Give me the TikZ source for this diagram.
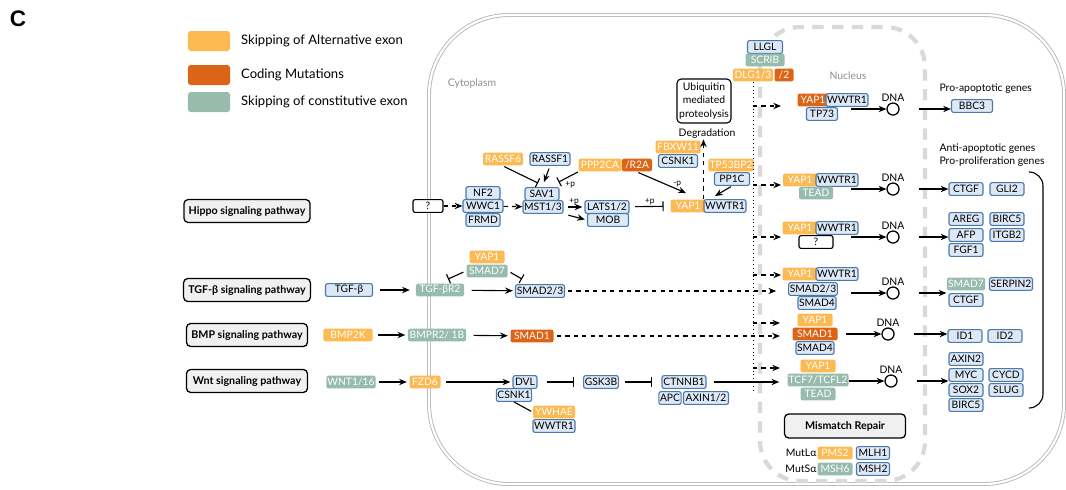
\documentclass[tikz,border=0pt]{standalone}
\usepackage{fontspec}
\setmainfont{Lato}
\newfontfamily\panelfont{Liberation Sans}
\usepackage{tikz}
\usetikzlibrary{arrows.meta,calc,positioning}

\definecolor{altorange}{HTML}{FDB952}
\definecolor{mutorange}{HTML}{DC6416}
\definecolor{constgreen}{HTML}{97BCAE}
\definecolor{boxblue}{HTML}{DCE8F5}
\definecolor{edgeblue}{HTML}{4B79AA}
\definecolor{pathgray}{HTML}{F0F0F0}
\definecolor{cellgray}{HTML}{B4B4B4}
\definecolor{nucgray}{HTML}{D9D9D9}
\definecolor{notegray}{HTML}{8C8C8C}

\newcommand{\boxfont}{\fontsize{7.3}{7.5}\selectfont}
\newcommand{\notefont}{\fontsize{7.4}{9.6}\selectfont}
\newcommand{\tinyfont}{\fontsize{6}{6}\selectfont}
\newcommand{\pathfont}{\fontsize{7.6}{8}\selectfont\bfseries}
\newcommand{\legendfont}{\fontsize{9.3}{10}\selectfont}

\begin{document}
\begin{tikzpicture}[x=0.025cm, y=-0.025cm, >={Stealth[length=5.5pt,width=4.5pt]}, line width=0.8pt]
  \tikzstyle{bbox}=[rectangle, draw=edgeblue, fill=boxblue, rounded corners=1.5pt,
                    line width=0.8pt, minimum width=0.85cm, minimum height=0.32cm,
                    inner xsep=0.8pt, inner ysep=1pt, font=\boxfont, text=black]
  \tikzstyle{obox}=[bbox, draw=none, fill=altorange, text=white]
  \tikzstyle{mbox}=[obox, fill=mutorange]
  \tikzstyle{gbox}=[obox, fill=constgreen]
  \tikzstyle{qbox}=[bbox, draw=black, fill=white]
  \tikzstyle{pbox}=[rectangle, draw=black, fill=pathgray, rounded corners=3pt,
                    line width=0.9pt, minimum width=3.025cm, minimum height=0.575cm,
                    font=\pathfont]
  \tikzstyle{dna}=[circle, draw=black, line width=0.9pt, minimum size=0.3cm, inner sep=0pt,
                   label distance=3pt, label={[font=\notefont, inner sep=0pt]above:DNA}]
  \tikzstyle{note}=[font=\notefont, inner sep=0pt, align=center]
  \tikzstyle{swatch}=[rectangle, rounded corners=2pt, minimum width=1.05cm,
                      minimum height=0.5cm, inner sep=0pt]
  \tikzstyle{legend}=[font=\legendfont, inner sep=0pt]
  \tikzstyle{arr}=[->, shorten <=3.5pt, shorten >=1.5pt]
  \tikzstyle{darr}=[->, dashed]
  \tikzstyle{inh}=[-{Bar[width=7pt]}, shorten <=4pt, shorten >=4.5pt]
  \tikzstyle{plabel}=[font=\tinyfont, inner sep=1pt]

  \useasboundingbox (0,0) rectangle (1066,489);

  % panel letter and legend
  \node[font=\panelfont\bfseries\fontsize{16}{16}\selectfont] (panel) at (18,19) {C};
  \node[swatch, fill=altorange]  (lgalt)   at (209,41)  {};
  \node[swatch, fill=mutorange]  (lgmut)   at (209,75)  {};
  \node[swatch, fill=constgreen] (lgconst) at (209,102) {};
  \node[legend, right=0.25cm of lgalt]   {Skipping of Alternative exon};
  \node[legend, right=0.25cm of lgmut]   {Coding Mutations};
  \node[legend, right=0.25cm of lgconst] {Skipping of constitutive exon};

  % cell and nucleus
  \draw[cellgray, line width=0.6pt, double=white, double distance=1.6pt, rounded corners=2cm]
       (429,15) rectangle (1064,484);
  \draw[nucgray, line width=3pt, dash pattern=on 8pt off 6pt, rounded corners=1cm]
       (760,27) rectangle (925,481);
  \node[note, text=notegray] (cyto) at (472,84) {Cytoplasm};
  \node[note, text=notegray] (nucl) at (848,76) {Nucleus};

  % pathways
  \node[pbox] (hippo) at (247,211) {Hippo signaling pathway};
  \node[pbox] (tgf)   at (247,290) {TGF-β signaling pathway};
  \node[pbox] (bmp)   at (247,335) {BMP signaling pathway};
  \node[pbox] (wnt)   at (247,381) {Wnt signaling pathway};

  % Hippo
  \node[qbox, minimum width=0.75cm] (q1) at (428,206) {?};
  \node[bbox] (nf2)  at (483,193) {NF2};
  \node[bbox, minimum width=1cm] (wwc1) at (483,206) {WWC1};
  \node[bbox] (frmd) at (483,220) {FRMD};
  \node[bbox] (sav1) at (542,194) {SAV1};
  \node[bbox, minimum width=1cm] (mst) at (543,207) {MST1/3};
  \node[bbox, minimum width=1.1cm] (lats) at (607,207) {LATS1/2};
  \node[bbox, minimum width=1.025cm] (mob) at (608,220) {MOB};
  \node[obox, minimum width=0.875cm] (yap1h) at (688,206) {YAP1};
  \node[bbox, minimum width=0.975cm] (wwtr1h) at (725,206) {WWTR1};
  \node[obox, minimum width=1cm] (rassf6) at (503,159) {RASSF6};
  \node[bbox, minimum width=1cm] (rassf1) at (550,159) {RASSF1};
  \node[obox, minimum width=1.075cm] (ppp2ca) at (600,165) {PPP2CA};
  \node[mbox, minimum width=0.75cm] (r2a) at (637,165) {/R2A};
  \node[obox, minimum width=1.125cm] (fbxw11) at (678,147) {FBXW11};
  \node[bbox, minimum width=0.975cm] (csnk1h) at (678,161) {CSNK1};
  \node[obox, minimum width=1.075cm] (tp53bp2) at (731,165) {TP53BP2};
  \node[bbox, minimum width=0.875cm] (pp1c) at (732,179) {PP1C};
  \node[rectangle, draw=black, fill=white, rounded corners=3pt, line width=0.8pt,
        minimum width=1.35cm, minimum height=1.1cm, inner sep=1pt, font=\notefont,
        align=center] (ubq) at (704,101) {Ubiquitin\\mediated\\proteolysis};
  \node[note] (degr) at (707,134) {Degradation};

  \node[bbox, minimum width=0.875cm] (llgl) at (765,47) {LLGL};
  \node[gbox, minimum width=0.975cm] (scrib) at (765,60) {SCRIB};
  \node[obox, minimum width=1cm] (dlg) at (753,75) {DLG1/3};
  \node[mbox, minimum width=0.475cm] (dlg2) at (784,75) {/2};

  \draw[darr] (q1) -- (wwc1);
  \draw[darr] (wwc1) -- (mst);
  \draw[arr] (mst) -- node[plabel, above]{+p} (lats);
  \draw[arr] (mst.south east) -- (mob.west);
  \draw[inh] (lats) -- node[plabel, above]{+p} (yap1h);
  \draw[inh, shorten <=1pt, shorten >=0pt] (rassf6.south) -- ($(sav1.north)+(-4,-4)$);
  \draw[arr, shorten <=2pt, shorten >=0pt] (rassf1.south) -- ($(sav1.north)+(2,-5)$);
  \draw[inh, shorten <=0pt, shorten >=0pt] (ppp2ca.south west) --
        node[plabel, pos=0.75, below right=0pt]{+p} ($(sav1.north east)+(-1,-5)$);
  \draw[arr, shorten <=1pt, shorten >=0pt] (r2a.south) --
        node[plabel, pos=0.82, above]{-p} ($(yap1h.north)+(-2,-6)$);
  \draw[arr, shorten <=1pt, shorten >=0pt] (pp1c.south) -- ($(wwtr1h.north)+(-10,-3)$);
  \draw[darr] (wwtr1h.north west) -- (wwtr1h.north west |- degr.south);

  % TGF-beta
  \node[bbox, minimum width=1.175cm] (tgfb) at (349,290) {TGF-β};
  \node[gbox, minimum width=1.2cm] (tgfr) at (440,290) {TGF-βR2};
  \node[bbox, minimum width=1.225cm] (smad23) at (540,291) {SMAD2/3};
  \node[obox, minimum width=0.875cm] (yap1t) at (487,257) {YAP1};
  \node[gbox, minimum width=1.025cm] (smad7t) at (487,271) {SMAD7};
  \draw[arr, shorten <=5pt, shorten >=4pt] (tgfb) -- (tgfr);
  \draw[arr, shorten <=5pt] (tgfr) -- (smad23);
  \draw[inh, shorten <=2pt, shorten >=0pt] (smad7t.west) -- ($(tgfr.north)+(8,-4)$);
  \draw[inh, shorten <=2pt, shorten >=0pt] (smad7t.east) -- ($(smad23.north)+(-18,-5)$);

  % BMP
  \node[obox, minimum width=1.225cm] (bmp2k) at (348,335) {BMP2K};
  \node[gbox, minimum width=1.45cm] (bmpr) at (437,335) {BMPR2/ 1B};
  \node[mbox, minimum width=1.075cm] (smad1) at (532,336) {SMAD1};
  \draw[arr] (bmp2k) -- (bmpr);
  \draw[arr, shorten <=5pt] (bmpr) -- (smad1);

  % Wnt
  \node[gbox, minimum width=1.225cm] (wnt1) at (351,382) {WNT1/16};
  \node[obox, minimum width=0.775cm] (fzd6) at (425,382) {FZD6};
  \node[bbox, minimum width=0.6cm] (dvl) at (525,382) {DVL};
  \node[bbox, minimum width=0.85cm] (csnk1w) at (514,395) {CSNK1};
  \node[obox, minimum width=1.05cm] (ywhae) at (554,412) {YWHAE};
  \node[bbox, minimum width=1.05cm] (wwtr1w) at (554,426) {WWTR1};
  \node[bbox] (gsk) at (601,382) {GSK3B};
  \node[bbox, minimum width=1.1cm] (ctnnb1) at (684,382) {CTNNB1};
  \node[bbox, minimum width=0.55cm] (apc) at (670,398) {APC};
  \node[bbox, minimum width=1.125cm] (axin) at (706,398) {AXIN1/2};
  \draw[arr, shorten <=2pt] (wnt1) -- (fzd6);
  \draw[arr] (fzd6) -- (dvl);
  \draw[inh, shorten <=6.5pt, shorten >=6.5pt] (dvl) -- (gsk);
  \draw[inh, shorten >=6.5pt] (gsk) -- (ctnnb1);
  \draw[shorten <=1pt] (ywhae.west) -- (csnk1w.south);

  % nucleus complexes
  \node[mbox, minimum width=0.775cm] (yap1n1) at (813,100) {YAP1};
  \node[bbox, minimum width=0.925cm] (wwtr1n1) at (847,100) {WWTR1};
  \node[bbox, minimum width=0.775cm] (tp73) at (822,114) {TP73};

  \node[obox, minimum width=0.85cm] (yap1n2) at (800,180) {YAP1};
  \node[bbox, minimum width=1cm] (wwtr1n2) at (837,180) {WWTR1};
  \node[gbox, minimum width=0.85cm] (tead2) at (816,193) {TEAD};

  \node[obox, minimum width=0.875cm] (yap1n3) at (800,228) {YAP1};
  \node[bbox, minimum width=1cm] (wwtr1n3) at (837,228) {WWTR1};
  \node[qbox, minimum width=0.85cm] (q3) at (816,242) {?};

  \node[obox, minimum width=0.875cm] (yap1n4) at (800,274) {YAP1};
  \node[bbox, minimum width=0.975cm] (wwtr1n4) at (837,274) {WWTR1};
  \node[bbox, minimum width=1cm] (smad23n) at (813,289) {SMAD2/3};
  \node[bbox, minimum width=0.9cm] (smad4n) at (817,303) {SMAD4};

  \node[obox, minimum width=0.875cm] (yap1n5) at (815,320) {YAP1};
  \node[mbox, minimum width=1.125cm] (smad1n) at (815,334) {SMAD1};
  \node[bbox, minimum width=0.925cm] (smad4n5) at (815,348) {SMAD4};

  \node[obox, minimum width=0.875cm] (yap1n6) at (818,366) {YAP1};
  \node[gbox, minimum width=1.525cm] (tcf) at (818,380) {TCF7/TCFL2};
  \node[gbox, minimum width=0.875cm] (tead6) at (818,394) {TEAD};

  % dotted bus and taps
  \coordinate (busend) at (752,392);
  \draw[dotted, line width=0.7pt] (dlg.south) -- (dlg.south |- busend);
  \coordinate (t1) at (753,106); \coordinate (e1) at (781,106);
  \coordinate (t2) at (753,185); \coordinate (e2) at (781,185);
  \coordinate (t3) at (753,237); \coordinate (e3) at (781,237);
  \coordinate (t4) at (753,275); \coordinate (e4) at (781,275);
  \coordinate (t5) at (753,323); \coordinate (e5) at (780,323);
  \coordinate (t6) at (753,368); \coordinate (e6) at (780,368);
  \foreach \i in {1,...,6}
    \draw[darr] (t\i) -- (e\i);
  \draw[darr, shorten <=2pt, shorten >=0.3cm] (smad23.east) -- (smad23.east -| smad23n.west);
  \draw[darr, shorten <=2pt, shorten >=0.3cm] (smad1.east) -- (smad1.east -| smad1n.west);
  \draw[arr, shorten <=5pt, shorten >=5.5pt] (ctnnb1.east) -- (ctnnb1.east -| tcf.west);

  % DNA
  \node[dna] (dna1) at (893,109) {};
  \node[dna] (dna2) at (893,189) {};
  \node[dna] (dna3) at (893,237) {};
  \node[dna] (dna4) at (893,293) {};
  \node[dna] (dna5) at (888,334) {};
  \node[dna] (dna6) at (891,381) {};
  \draw[->] ($(dna1.west)+(-35,0)$) -- (dna1.west);
  \draw[->] ($(dna2.west)+(-35,0)$) -- (dna2.west);
  \draw[->] ($(dna3.west)+(-35,0)$) -- (dna3.west);
  \draw[->] ($(dna4.west)+(-35,0)$) -- (dna4.west);
  \draw[->] ($(dna5.west)+(-35,0)$) -- (dna5.west);
  \draw[->] ($(dna6.west)+(-35,0)$) -- (dna6.west);

  % target genes
  \node[note, anchor=west] (proapo) at (939,89) {Pro-apoptotic genes};
  \node[note, anchor=west] (antiapo) at (939,149) {Anti-apoptotic genes};
  \node[note, anchor=west] (prolif) at (939,162) {Pro-proliferation genes};
  \node[bbox, minimum width=1.025cm] (bbc3) at (972,106) {BBC3};
  \node[bbox] (ctgf2) at (966,189) {CTGF};
  \node[bbox] (gli2) at (1007,189) {GLI2};
  \node[bbox] (areg) at (966,219) {AREG};
  \node[bbox] (afp) at (966,235) {AFP};
  \node[bbox] (fgf1) at (966,250) {FGF1};
  \node[bbox] (birc5a) at (1007,219) {BIRC5};
  \node[bbox] (itgb2) at (1007,235) {ITGB2};
  \node[gbox, minimum width=0.875cm] (smad7g) at (966,284) {SMAD7};
  \node[bbox] (ctgf4) at (966,300) {CTGF};
  \node[bbox, minimum width=0.975cm] (serpin2) at (1011,284) {SERPIN2};
  \node[bbox] (id1) at (965,336) {ID1};
  \node[bbox] (id2) at (1005,336) {ID2};
  \node[bbox] (axin2) at (966,359) {AXIN2};
  \node[bbox] (myc) at (966,375) {MYC};
  \node[bbox] (sox2) at (966,390) {SOX2};
  \node[bbox] (birc5b) at (966,405) {BIRC5};
  \node[bbox] (cycd) at (1006,375) {CYCD};
  \node[bbox] (slug) at (1006,390) {SLUG};
  \draw[->] ($(dna1.east)+(19,0)$) -- (bbc3.west |- dna1);
  \draw[->] ($(dna2.east)+(19,0)$) -- (ctgf2.west |- dna2);
  \draw[->] ($(dna3.east)+(19,0)$) -- (afp.west |- dna3);
  \draw[->] ($(dna4.east)+(19,0)$) -- (smad7g.west |- dna4);
  \draw[->] ($(dna5.east)+(19,0)$) -- (id1.west |- dna5);
  \draw[->] ($(dna6.east)+(19,0)$) -- (myc.west |- dna6);
  \draw[rounded corners=0.35cm] (1030,172) -- (1043,172) -- (1043,408) -- (1029,408);

  % mismatch repair
  \node[pbox, minimum width=3.025cm, minimum height=0.6cm] (mmr) at (845,426) {Mismatch Repair};
  \node[obox, minimum width=0.875cm] (pms2) at (835,453) {PMS2};
  \node[bbox, minimum width=0.825cm] (mlh1) at (873,453) {MLH1};
  \node[gbox, minimum width=0.875cm] (msh6) at (835,469) {MSH6};
  \node[bbox, minimum width=0.825cm] (msh2) at (873,469) {MSH2};
  \node[note, left=0pt of pms2] (mutla) {MutLα};
  \node[note, left=0pt of msh6] (mutsa) {MutSα};
\end{tikzpicture}
\end{document}
